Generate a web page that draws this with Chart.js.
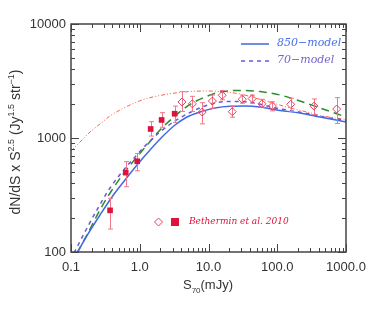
<!DOCTYPE html>
<html>
<head>
<meta charset="utf-8">
<script src="https://cdn.jsdelivr.net/npm/chart.js@4"></script>
<style>
  html, body { margin: 0; padding: 0; background: #fff; }
  canvas { display: block; }
</style>
</head>
<body>
<canvas id="myChart" width="374" height="312"></canvas>
<script>
// Bethermin et al. 2010 counts (filled squares = stacking, open diamonds = resolved)
const sqX = [0.37, 0.625, 0.92, 1.44, 2.08, 3.22];
const sqY = [232, 497, 625, 1200, 1440, 1633];
const sqLo = [159, 374, 516, 1040, 1242, 1370];
const sqHi = [296, 620, 730, 1390, 1667, 1905];

const dX = [4.12, 5.83, 8.1, 11.4, 15.8, 22.2, 31, 43, 60, 85, 157, 343, 732];
const dY = [2070, 1995, 1690, 2110, 2370, 1700, 2190, 2215, 1995, 1905, 1975, 1905, 1795];
const dLo = [1710, 1710, 1330, 1825, 2160, 1520, 2020, 2020, 1860, 1730, 1710, 1600, 1340];
const dHi = [2550, 2320, 2040, 2380, 2610, 1905, 2380, 2380, 2185, 2080, 2230, 2200, 2260];

// model curves
const blueX = [0.118, 0.177, 0.264, 0.395, 0.61, 0.912, 1.41, 2.11, 3.26, 4.87, 7.52, 12.4, 20.6, 34, 56, 110, 214, 419, 1000];
const blueY = [94, 144, 211, 304, 428, 580, 785, 1020, 1300, 1528, 1690, 1834, 1900, 1909, 1870, 1743, 1657, 1528, 1382];
const purpleX = [0.1106, 0.165, 0.247, 0.369, 0.552, 0.853, 1.318, 1.97, 3.256, 5.38, 8.89, 16.25, 28.7, 50.8, 86.7, 153, 271, 463, 1000];
const purpleY = [98, 156, 243, 364, 503, 681, 904, 1129, 1410, 1674, 1909, 2080, 2090, 2008, 1852, 1743, 1640, 1532, 1424];
const greenX = [0.1223, 0.1767, 0.264, 0.395, 0.59, 0.882, 1.318, 1.97, 3.256, 5.38, 8.89, 14.7, 28.7, 56.1, 109.6, 214, 419, 1000];
const greenY = [98, 147, 234, 350, 493, 668, 886, 1175, 1560, 1968, 2288, 2532, 2611, 2558, 2384, 2111, 1834, 1528];
const orangeX = [0.1, 0.1352, 0.189, 0.264, 0.369, 0.516, 0.721, 1.192, 1.97, 3.256, 5.38, 8.89, 14.7, 28.7, 50.8, 86.7, 153, 271, 463, 1000];
const orangeY = [769, 922, 1129, 1327, 1560, 1761, 1948, 2198, 2359, 2481, 2558, 2584, 2558, 2432, 2221, 2028, 1834, 1691, 1560, 1453];

const xTicks = [0.1, 1, 10, 100, 1000];
const xTickLabels = ['0.1', '1.0', '10.0', '100.0', '1000.0'];
const yTicks = [100, 1000, 10000];
const yTickLabels = ['100', '1000', '10000'];

const RED = '#dc143c';
const ERR = '#f0768c';

function pts(xs, ys) {
  return xs.map((x, i) => ({ x: x, y: ys[i] }));
}

function lineSet(label, xs, ys, color, dash, width) {
  return {
    label: label,
    data: pts(xs, ys),
    showLine: true,
    borderColor: color,
    borderWidth: width,
    borderDash: dash,
    pointRadius: 0,
    fill: false,
    cubicInterpolationMode: 'monotone'
  };
}

const boxPlugin = {
  id: 'box',
  afterDatasetDraw(chart, args) {
    if (args.index !== 2) return; // after lines, before points
    const ctx = chart.ctx, xs = chart.scales.x, ys = chart.scales.y;
    ctx.save();
    ctx.strokeStyle = ERR;
    ctx.lineWidth = 1;
    const bars = (X, L, H) => X.forEach((x, i) => {
      const px = Math.round(xs.getPixelForValue(x)) + 0.5;
      const y1 = ys.getPixelForValue(L[i]), y2 = ys.getPixelForValue(H[i]);
      ctx.beginPath();
      ctx.moveTo(px, y1); ctx.lineTo(px, y2);
      ctx.moveTo(px - 2.5, y1); ctx.lineTo(px + 2.5, y1);
      ctx.moveTo(px - 2.5, y2); ctx.lineTo(px + 2.5, y2);
      ctx.stroke();
    });
    bars(sqX, sqLo, sqHi);
    bars(dX, dLo, dHi);
    ctx.restore();
  },
  afterDraw(chart) {
    const ctx = chart.ctx, a = chart.chartArea;
    const xs = chart.scales.x, ys = chart.scales.y;
    ctx.save();
    // frame
    ctx.strokeStyle = '#444';
    ctx.lineWidth = 1.5;
    ctx.strokeRect(a.left, a.top, a.right - a.left, a.bottom - a.top);
    // inward ticks on all four sides
    ctx.lineWidth = 1;
    ctx.beginPath();
    for (let d = 0.1; d <= 1000; d *= 10) {
      for (let m = 1; m <= 9; m++) {
        const v = d * m;
        if (v > 1000 * 1.0001) break;
        const px = Math.round(xs.getPixelForValue(v)) + 0.5;
        const len = m === 1 ? 8 : 4;
        ctx.moveTo(px, a.bottom); ctx.lineTo(px, a.bottom - len);
        ctx.moveTo(px, a.top); ctx.lineTo(px, a.top + len);
      }
    }
    for (let d = 100; d <= 10000; d *= 10) {
      for (let m = 1; m <= 9; m++) {
        const v = d * m;
        if (v > 10000 * 1.0001) break;
        const py = Math.round(ys.getPixelForValue(v)) + 0.5;
        const len = m === 1 ? 8 : 4;
        ctx.moveTo(a.left, py); ctx.lineTo(a.left + len, py);
        ctx.moveTo(a.right, py); ctx.lineTo(a.right - len, py);
      }
    }
    ctx.stroke();

    // axis titles
    ctx.fillStyle = '#333';
    ctx.textBaseline = 'alphabetic';
    let main = '13px "Liberation Sans", Arial, sans-serif';
    let small = '8px "Liberation Sans", Arial, sans-serif';
    const runs = (parts) => {
      let w = 0;
      parts.forEach(p => { ctx.font = p[1] ? small : main; w += ctx.measureText(p[0]).width; });
      return w;
    };
    const drawRuns = (parts, x, y) => {
      parts.forEach(p => {
        ctx.font = p[1] ? small : main;
        ctx.fillText(p[0], x, y + (p[1] || 0));
        x += ctx.measureText(p[0]).width;
      });
    };
    const xt = [['S', 0], ['70', 4], ['(mJy)', 0]];
    ctx.textAlign = 'left';
    drawRuns(xt, 208 - runs(xt) / 2, 289);
    main = '14px "Liberation Sans", Arial, sans-serif';
    small = '9px "Liberation Sans", Arial, sans-serif';
    const yt = [['dN/dS x S', 0], ['2.5', -6], [' (Jy', 0], ['1.5', -6], [' str', 0], ['\u22121', -6], [')', 0]];
    ctx.translate(20, 142);
    ctx.rotate(-Math.PI / 2);
    drawRuns(yt, -runs(yt) / 2, 0);
    ctx.setTransform(1, 0, 0, 1, 0, 0);

    // legends
    ctx.lineWidth = 1.5;
    ctx.strokeStyle = '#4169e1';
    ctx.beginPath(); ctx.moveTo(241, 44); ctx.lineTo(269, 44); ctx.stroke();
    ctx.strokeStyle = '#6a5acd';
    ctx.setLineDash([4, 4]);
    ctx.beginPath(); ctx.moveTo(241, 61); ctx.lineTo(269, 61); ctx.stroke();
    ctx.setLineDash([]);
    ctx.font = 'italic 11px "DejaVu Serif", serif';
    ctx.textBaseline = 'middle';
    ctx.fillStyle = '#4a72e6';
    ctx.fillText('850\u2212model', 277, 43);
    ctx.fillStyle = '#7466c8';
    ctx.fillText('70\u2212model', 277, 60);

    // Bethermin legend
    ctx.strokeStyle = '#e8405e';
    ctx.lineWidth = 1;
    ctx.beginPath();
    ctx.moveTo(158.5, 218); ctx.lineTo(162.5, 222); ctx.lineTo(158.5, 226); ctx.lineTo(154.5, 222); ctx.closePath();
    ctx.stroke();
    ctx.fillStyle = RED;
    ctx.fillRect(171, 218, 8, 8);
    ctx.font = 'italic 9px "DejaVu Serif", serif';
    ctx.fillText('Bethermin et al. 2010', 189, 222);
    ctx.restore();
  }
};

new Chart(document.querySelector('#myChart'), {
  type: 'scatter',
  data: {
    datasets: [
      {
        label: 'Bethermin squares',
        data: pts(sqX, sqY),
        pointStyle: 'rect',
        pointRadius: 4,
        backgroundColor: RED,
        borderColor: RED,
        borderWidth: 0
      },
      {
        label: 'Bethermin diamonds',
        data: pts(dX, dY),
        pointStyle: 'rectRot',
        pointRadius: 4,
        backgroundColor: 'rgba(0,0,0,0)',
        borderColor: '#e8405e',
        borderWidth: 1
      },
      lineSet('850-model', blueX, blueY, '#4169e1', [], 1.5),
      lineSet('70-model', purpleX, purpleY, '#6a5acd', [4, 4], 1.5),
      lineSet('green', greenX, greenY, '#2e8b2e', [8, 5], 1.5),
      lineSet('orange', orangeX, orangeY, '#ff6347', [4, 2, 1, 2, 1, 2], 1)
    ]
  },
  options: {
    responsive: false,
    animation: false,
    devicePixelRatio: 1,
    layout: { padding: { left: 0, right: 28, top: 24, bottom: 0 } },
    plugins: { legend: { display: false }, tooltip: { enabled: false } },
    scales: {
      x: {
        type: 'logarithmic',
        min: 0.1,
        max: 1000,
        afterBuildTicks: s => { s.ticks = xTicks.map(v => ({ value: v })); },
        afterFit: s => { s.height = 60; },
        grid: { display: false, drawTicks: false },
        border: { display: false },
        ticks: {
          padding: 8,
          color: '#333',
          font: { size: 13, family: '"Liberation Sans", Arial, sans-serif' },
          maxRotation: 0,
          autoSkip: false,
          callback: v => xTickLabels[xTicks.indexOf(v)] ?? ''
        }
      },
      y: {
        type: 'logarithmic',
        min: 100,
        max: 10000,
        afterBuildTicks: s => { s.ticks = yTicks.map(v => ({ value: v })); },
        afterFit: s => { s.width = 71; },
        grid: { display: false, drawTicks: false },
        border: { display: false },
        ticks: {
          padding: 5,
          color: '#333',
          font: { size: 13, family: '"Liberation Sans", Arial, sans-serif' },
          autoSkip: false,
          callback: v => yTickLabels[yTicks.indexOf(v)] ?? ''
        }
      }
    }
  },
  plugins: [boxPlugin]
});
</script>
</body>
</html>
